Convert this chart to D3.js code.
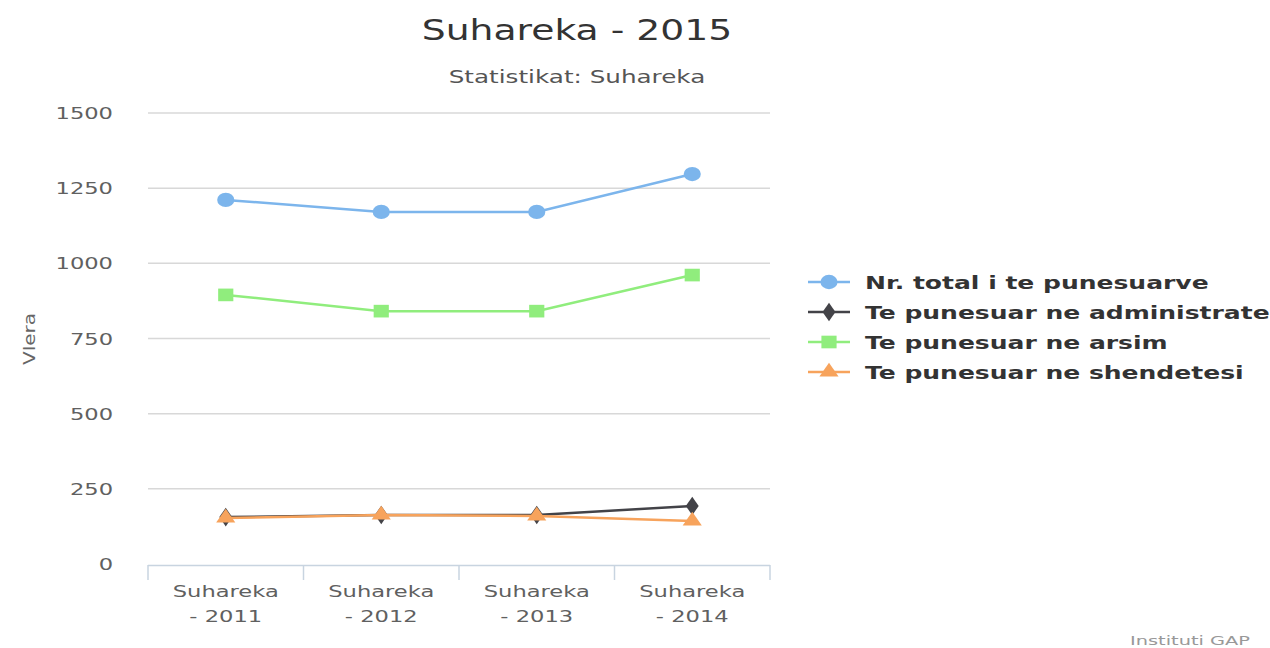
<!DOCTYPE html>
<html><head><meta charset="utf-8">
<script src="https://cdn.jsdelivr.net/npm/d3@7"></script>
<style>body{margin:0;background:#fff}svg{display:block}</style>
</head><body>
<script>
const categories = ["Suhareka - 2011","Suhareka - 2012","Suhareka - 2013","Suhareka - 2014"];
const seriesNames = ["Nr. total i te punesuarve","Te punesuar ne administrate","Te punesuar ne arsim","Te punesuar ne shendetesi"];
const totalValues = [1211, 1171, 1171, 1297];
const adminValues = [156, 163, 163, 193];
const arsimValues = [895, 841, 841, 961];
const shendValues = [153, 163, 160, 143];
const yTicks = [0, 250, 500, 750, 1000, 1250, 1500];
const colors = ["#7cb5ec","#434348","#90ed7d","#f7a35c"];
const symbols = [d3.symbolCircle, d3.symbolDiamond, d3.symbolSquare, d3.symbolTriangle];

const W = 1270, H = 648;
const svg = d3.select("body").append("svg").attr("width", W).attr("height", H);
const font = "'DejaVu Sans', Verdana, sans-serif";
const SX = 1.37; // horizontal stretch of the reference text

function stext(parent, tx, ty, txt, size, fill, anchor, sx, weight) {
  return parent.append("text")
    .attr("transform", `translate(${tx},${ty}) scale(${sx},1)`)
    .attr("text-anchor", anchor).attr("font-family", font)
    .attr("font-size", size).attr("fill", fill)
    .attr("font-weight", weight || "normal").text(txt);
}

const x = d3.scaleBand().domain(categories).range([148, 770]);
const y = d3.scaleLinear().domain([0, 1500]).range([564, 113]);

// gridlines
svg.append("g").selectAll("line").data(yTicks.filter(t => t > 0)).join("line")
  .attr("x1", 148).attr("x2", 770).attr("y1", d => y(d)).attr("y2", d => y(d))
  .attr("stroke", "#d8d8d8").attr("stroke-width", 1.5);

// y labels
const yl = svg.append("g");
yTicks.forEach(t => stext(yl, 113, y(t) + 6, t, 16.5, "#606060", "end", SX));

// x axis
const xa = svg.append("g");
xa.append("line").attr("x1", 148).attr("x2", 770).attr("y1", 565.5).attr("y2", 565.5)
  .attr("stroke", "#c8d4e0").attr("stroke-width", 1.5);
const bounds = categories.map(c => x(c)).concat([x.range()[1]]);
xa.selectAll("line.tick").data(bounds).join("line").attr("class","tick")
  .attr("x1", d => d).attr("x2", d => d).attr("y1", 565).attr("y2", 580)
  .attr("stroke", "#c8d4e0").attr("stroke-width", 1.5);
categories.forEach(c => {
  const parts = c.split(" - ");
  const cx = x(c) + x.bandwidth() / 2;
  stext(xa, cx, 597, parts[0], 16.5, "#606060", "middle", SX);
  stext(xa, cx, 622, "- " + parts[1], 16.5, "#606060", "middle", SX);
});

// y axis title
svg.append("text").attr("transform", "translate(35,339) rotate(-90) scale(1.25,1)")
  .attr("text-anchor", "middle").attr("font-family", font)
  .attr("font-size", 16).attr("fill", "#666666").text("Vlera");

// title
stext(svg, 577, 40, "Suhareka - 2015", 29, "#333333", "middle", 1.3);
stext(svg, 577, 83, "Statistikat: Suhareka", 17, "#555555", "middle", 1.45);

// series
const allSeries = [totalValues, adminValues, arsimValues, shendValues];
const line = d3.line().x((d, i) => x(categories[i]) + x.bandwidth() / 2).y(d => y(d));
const symSizes = [160, 100, 160, 110];
allSeries.forEach((vals, si) => {
  const g = svg.append("g");
  g.append("path").datum(vals).attr("d", line).attr("fill", "none")
    .attr("stroke", colors[si]).attr("stroke-width", 2.5);
  g.selectAll("path.m").data(vals).join("path").attr("class", "m")
    .attr("transform", (d, i) => `translate(${x(categories[i]) + x.bandwidth() / 2},${y(d)}) scale(1.2,1)`)
    .attr("d", d3.symbol().type(symbols[si]).size(symSizes[si]))
    .attr("fill", colors[si]);
});

// legend
const lg = svg.append("g");
seriesNames.forEach((name, i) => {
  const yy = 282 + i * 30;
  lg.append("line").attr("x1", 808).attr("x2", 850).attr("y1", yy).attr("y2", yy)
    .attr("stroke", colors[i]).attr("stroke-width", 2.5);
  lg.append("path").attr("transform", `translate(829,${yy}) scale(1.2,1)`)
    .attr("d", d3.symbol().type(symbols[i]).size(symSizes[i])).attr("fill", colors[i]);
  stext(lg, 865, yy + 6.5, name, 18, "#333333", "start", 1.39, "bold");
});

// credits
stext(svg, 1250, 645, "Instituti GAP", 12.5, "#999999", "end", 1.55);
</script>
</body></html>
